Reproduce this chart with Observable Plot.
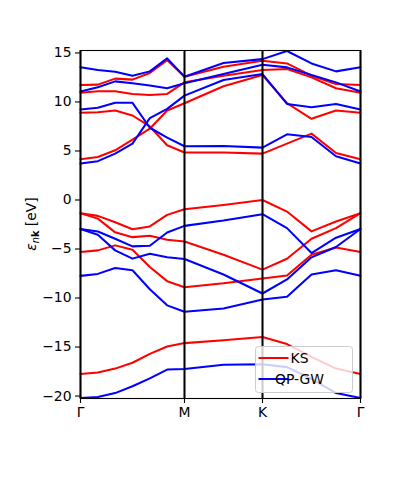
<!DOCTYPE html>
<html><head><meta charset="utf-8">
<script src="https://cdn.jsdelivr.net/npm/d3@7"></script>
<script src="https://cdn.jsdelivr.net/npm/@observablehq/plot@0.6"></script>
<style>body{margin:0;background:#fff}#chart{width:400px;height:500px}</style>
</head><body><div id="chart"></div><script>
// k-path (cumulative distance along Γ–M–K–Γ, normalised)
const kDist = [0, 0.0619, 0.1238, 0.1857, 0.2476, 0.3095, 0.3714, 0.5107, 0.65, 0.7375, 0.825, 0.9125, 1.0];
const kTicks = [0, 0.3714, 0.65, 1.0];
const kLabels = ["Γ", "M", "K", "Γ"];
const yTicks = [-20, -15, -10, -5, 0, 5, 10, 15];
const methods = ["KS", "QP-GW"];
const methodColors = ["red", "blue"];

// Kohn–Sham bands (eV)
const ksBands = [
  [-17.75, -17.6, -17.2, -16.6, -15.7, -14.95, -14.6, -14.3, -13.97, -14.7, -16.0, -17.2, -17.75],
  [-5.3, -5.14, -4.63, -5.07, -6.83, -8.28, -8.9, -8.5, -8.0, -7.7, -5.58, -4.84, -5.3],
  [-1.35, -1.9, -3.3, -3.79, -3.65, -4.06, -4.23, -5.58, -7.1, -6.0, -3.96, -2.87, -1.35],
  [-1.35, -1.62, -2.27, -2.98, -2.7, -1.52, -0.95, -0.5, 0.0, -1.18, -3.2, -2.2, -1.35],
  [4.16, 4.39, 5.07, 6.15, 7.27, 9.13, 9.87, 11.6, 12.75, 9.87, 8.28, 9.13, 8.9],
  [8.9, 8.96, 9.13, 8.62, 7.5, 5.58, 4.84, 4.84, 4.73, 5.75, 6.77, 4.8, 4.16],
  [10.95, 11.09, 11.09, 10.82, 10.72, 10.82, 12.0, 12.68, 13.26, 13.36, 12.51, 11.4, 10.95],
  [11.74, 11.77, 12.38, 12.28, 12.95, 14.27, 12.58, 13.6, 14.2, 13.93, 12.68, 11.84, 11.74]
];
// Quasiparticle GW bands (eV)
const qpBands = [
  [-20.2, -20.1, -19.7, -19.0, -18.2, -17.3, -17.25, -16.8, -16.75, -17.05, -18.25, -19.7, -20.2],
  [-7.74, -7.54, -6.93, -7.17, -9.1, -10.75, -11.4, -11.06, -10.15, -9.87, -7.6, -7.17, -7.74],
  [-2.96, -3.55, -5.14, -5.98, -5.48, -5.85, -6.02, -7.6, -9.54, -8.1, -5.85, -4.8, -2.96],
  [-2.96, -3.21, -3.96, -4.73, -4.67, -3.31, -2.64, -2.1, -1.45, -2.87, -5.41, -3.85, -2.96],
  [3.72, 3.96, 4.73, 5.75, 8.35, 9.3, 10.65, 12.24, 12.85, 9.8, 9.47, 9.8, 9.23],
  [9.23, 9.4, 9.91, 9.91, 7.37, 6.36, 5.48, 5.51, 5.34, 6.7, 6.43, 4.46, 3.72],
  [11.06, 11.5, 12.1, 11.9, 11.67, 11.4, 11.9, 12.85, 13.8, 13.53, 12.75, 12.0, 11.06],
  [13.53, 13.26, 13.09, 12.68, 13.12, 14.44, 12.58, 13.97, 14.37, 15.2, 13.93, 13.12, 13.53]
];

const rows = [];
[ksBands, qpBands].forEach((set, m) => set.forEach((band, b) => band.forEach((e, i) =>
  rows.push({k: kDist[i], e, method: methods[m], band: methods[m] + b}))));

const FS = 13.9;
const plot = Plot.plot({
  width: 400, height: 500,
  marginLeft: 80, marginRight: 40, marginTop: 50, marginBottom: 102,
  style: {fontFamily: "DejaVu Sans", fontSize: FS + "px", color: "black", background: "white"},
  x: {domain: [0, 1]},
  y: {domain: [-20.25, 15.25]},
  color: {domain: methods, range: methodColors},
  marks: [
    Plot.line(rows.filter(d => d.method === "KS"), {x: "k", y: "e", z: "band", stroke: "method", strokeWidth: 2.05}),
    Plot.line(rows.filter(d => d.method === "QP-GW"), {x: "k", y: "e", z: "band", stroke: "method", strokeWidth: 2.05}),
    Plot.ruleX(kTicks, {stroke: "black", strokeWidth: 2.05}),
    Plot.frame({stroke: "black", strokeWidth: 1.1}),
    Plot.axisY({ticks: yTicks, tickSize: 5, tickPadding: 4, label: null, strokeWidth: 1.1}),
    Plot.axisX({ticks: kTicks, tickFormat: d => kLabels[kTicks.indexOf(d)], tickSize: 5, tickPadding: 4, label: null, strokeWidth: 1.1})
  ]
});
document.getElementById("chart").appendChild(plot);

const svg = d3.select(plot);
const xr = plot.scale("x").range, yr = plot.scale("y").range;
// y label
const yl = svg.append("text")
  .attr("transform", `translate(31,${(yr[0] + yr[1]) / 2}) rotate(-90)`)
  .attr("text-anchor", "middle").attr("dominant-baseline", "central")
  .attr("font-size", FS).attr("fill", "black");
yl.append("tspan").attr("font-style", "italic").text("ε");
yl.append("tspan").attr("font-style", "italic").attr("font-size", FS * 0.7).attr("dy", 3.5).text("n");
yl.append("tspan").attr("font-weight", "bold").attr("font-size", FS * 0.7).text("k");
yl.append("tspan").attr("dy", -3.5).text(" [eV]");

// legend
const lw = 97, lh = 46;
const lx = xr[1] - 7.5 - lw, ly = yr[0] - 5.5 - lh;
const lg = svg.append("g");
lg.append("rect").attr("x", lx).attr("y", ly).attr("width", lw).attr("height", lh).attr("rx", 3)
  .attr("fill", "white").attr("fill-opacity", 0.8).attr("stroke", "#cccccc").attr("stroke-width", 1);
methods.forEach((m, i) => {
  const yy = ly + 11.5 + i * 21;
  lg.append("line").attr("x1", lx + 3).attr("x2", lx + 33).attr("y1", yy).attr("y2", yy)
    .attr("stroke", methodColors[i]).attr("stroke-width", 2.05);
  lg.append("text").attr("x", lx + 44).attr("y", yy).attr("dominant-baseline", "central")
    .attr("font-size", FS).attr("fill", "black").text(m);
});
</script></body></html>
